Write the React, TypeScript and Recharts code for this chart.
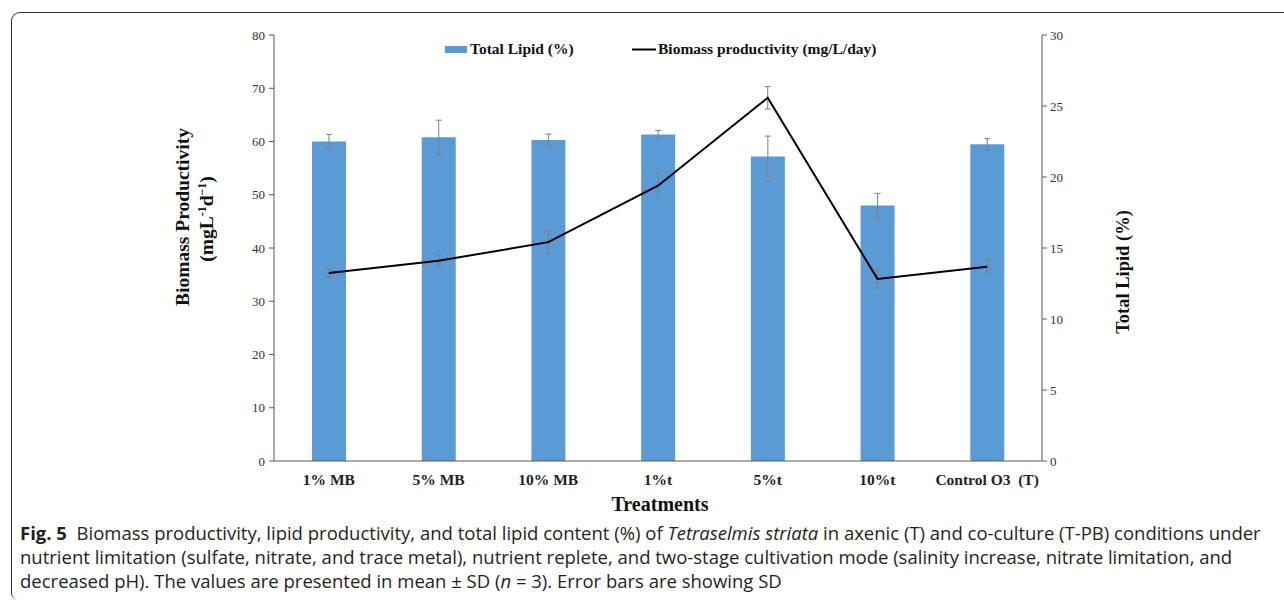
import { ComposedChart, Bar, Line, XAxis, YAxis, ErrorBar } from 'recharts';

// treatments on the x axis
const treatments = ['1% MB', '5% MB', '10% MB', '1%t', '5%t', '10%t', 'Control O3\u00a0 (T)'];
// total lipid content (%), right axis, with SD
const totalLipid = [22.5, 22.8, 22.6, 23.0, 21.45, 18.0, 22.3];
const totalLipidSd = [0.5, 1.2, 0.42, 0.28, 1.43, 0.85, 0.4];
// biomass productivity (mg/L/day), left axis, with SD
const biomass = [35.3, 37.6, 41.1, 51.7, 68.2, 34.2, 36.5];
const biomassSd = [0.8, 1.0, 2.1, 2.4, 2.1, 1.7, 1.4];

const leftTicks = [0, 10, 20, 30, 40, 50, 60, 70, 80];
const rightTicks = [0, 5, 10, 15, 20, 25, 30];

const data = treatments.map((name, i) => ({
  name,
  lipid: totalLipid[i],
  lipidSd: totalLipidSd[i],
  biomass: biomass[i],
  biomassSd: biomassSd[i],
}));

const SERIF = '"Liberation Serif", "Times New Roman", serif';
const SANS = '"Open Sans", "Noto Sans", sans-serif';
const BLUE = '#5B9BD5';
const AXIS = '#595959';

const tickStyle = { fontFamily: SERIF, fontSize: 13, fill: '#333' };

export default function App() {
  return (
    <div style={{ position: 'absolute', left: 0, top: 0, width: 1284, height: 601, background: '#fff', overflow: 'hidden' }}>
      {/* frame */}
      <div
        style={{
          position: 'absolute',
          left: 11,
          top: 12,
          width: 1300,
          height: 586,
          borderTop: '1.5px solid #333',
          borderLeft: '1.5px solid #333',
          borderTopLeftRadius: 9,
          borderBottomLeftRadius: 6,
        }}
      />

      <div style={{ position: 'absolute', left: 0, top: 0 }}>
        <ComposedChart
          width={1284}
          height={520}
          data={data}
          margin={{ top: 35, right: 182, bottom: 29, left: 214 }}
        >
          <XAxis
            dataKey="name"
            height={30}
            tickLine={false}
            tickSize={0}
            tickMargin={13}
            interval={0}
            stroke={AXIS}
            tick={{ ...tickStyle, fontWeight: 'bold', fontSize: 15.5, fill: '#222' }}
          />
          <YAxis
            yAxisId="left"
            orientation="left"
            width={60}
            domain={[0, 80]}
            ticks={leftTicks}
            tickSize={5}
            tickMargin={4}
            stroke={AXIS}
            tick={tickStyle}
          />
          <YAxis
            yAxisId="right"
            orientation="right"
            width={60}
            domain={[0, 30]}
            ticks={rightTicks}
            tickSize={5}
            tickMargin={3}
            stroke={AXIS}
            tick={tickStyle}
          />
          <Bar yAxisId="right" dataKey="lipid" fill={BLUE} barSize={34} isAnimationActive={false}>
            <ErrorBar dataKey="lipidSd" width={3} stroke="#7f7f7f" strokeWidth={1} direction="y" />
          </Bar>
          <Line
            yAxisId="left"
            dataKey="biomass"
            stroke="#000"
            strokeWidth={2}
            dot={false}
            isAnimationActive={false}
          >
            <ErrorBar dataKey="biomassSd" width={3} stroke="#7f7f7f" strokeWidth={1} direction="y" />
          </Line>
        </ComposedChart>
      </div>

      {/* axis titles and legend */}
      <svg width={1284} height={601} style={{ position: 'absolute', left: 0, top: 0, pointerEvents: 'none' }}>
        <g fontFamily={SERIF} fontWeight="bold" fill="#111">
          <text transform="translate(189,217) rotate(-90)" textAnchor="middle" fontSize={19.5}>
            Biomass Productivity
          </text>
          <text transform="translate(213,219) rotate(-90)" textAnchor="middle" fontSize={19.5}>
            (mgL
            <tspan fontSize={12} dy={-7}>-1</tspan>
            <tspan dy={7}>d</tspan>
            <tspan fontSize={12} dy={-7}>−1</tspan>
            <tspan dy={7}>)</tspan>
          </text>
          <text transform="translate(1129,272) rotate(-90)" textAnchor="middle" fontSize={18.5}>
            Total Lipid (%)
          </text>
          <text x={660} y={511} textAnchor="middle" fontSize={20}>
            Treatments
          </text>
        </g>
        <g fontFamily={SERIF} fontWeight="bold" fontSize={15.5} fill="#111">
          <rect x={445} y={46} width={22} height={7} fill={BLUE} />
          <text x={470} y={54}>Total Lipid (%)</text>
          <line x1={632} y1={49.5} x2={656} y2={49.5} stroke="#000" strokeWidth={2} />
          <text x={658} y={54}>Biomass productivity (mg/L/day)</text>
        </g>
      </svg>

      {/* caption */}
      <div
        style={{
          position: 'absolute',
          left: 20,
          top: 521,
          fontFamily: SANS,
          fontSize: 18.5,
          lineHeight: '24px',
          color: '#231f20',
          whiteSpace: 'nowrap',
          letterSpacing: 0,
        }}
      >
        <b>Fig. 5</b>&nbsp; Biomass productivity, lipid productivity, and total lipid content (%) of <i>Tetraselmis striata</i> in axenic (T) and co-culture (T-PB) conditions under
        <br />
        nutrient limitation (sulfate, nitrate, and trace metal), nutrient replete, and two-stage cultivation mode (salinity increase, nitrate limitation, and
        <br />
        decreased pH). The values are presented in mean ± SD (<i>n</i> = 3). Error bars are showing SD
      </div>
    </div>
  );
}
